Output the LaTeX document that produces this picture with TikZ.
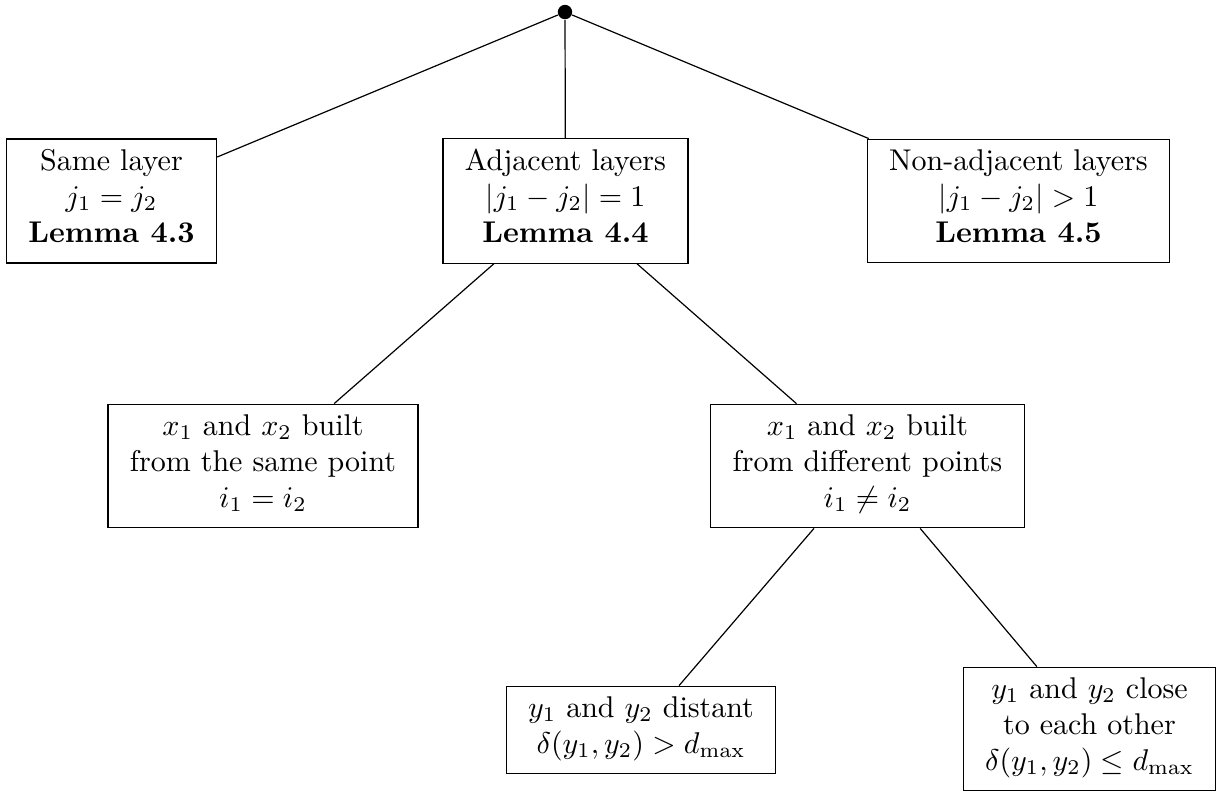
\documentclass[tikz,border=0pt]{standalone}
\usepackage{amsmath}
\begin{document}
\begin{tikzpicture}[x=0.33333pt,y=-0.33333pt,
  box/.style={draw, align=center, inner xsep=7.3pt, inner ysep=3.333pt,
    execute at begin node=\strut, execute at end node=\strut},
  edge/.style={draw, line width=0.4pt}]
\useasboundingbox (0,0) rectangle (1222,795);
\node[circle, fill=black, inner sep=0pt, minimum size=4.8pt] (root) at (565,12) {};
\node[box] (A) at (111.5,201) {Same layer\\ $j_1 = j_2$\\ \textbf{Lemma 4.3}};
\node[box] (B) at (565.5,201) {Adjacent layers\\ $|j_1 - j_2| = 1$\\ \textbf{Lemma 4.4}};
\node[box] (C) at (1018.5,201) {Non-adjacent layers\\ $|j_1 - j_2| > 1$\\ \textbf{Lemma 4.5}};
\node[box] (D) at (263,466) {$x_1$ and $x_2$ built\\ from the same point\\ $i_1 = i_2$};
\node[box] (E) at (867.5,466) {$x_1$ and $x_2$ built\\ from different points\\ $i_1 \neq i_2$};
\node[box] (F) at (641,730) {$y_1$ and $y_2$ distant\\ $\delta(y_1,y_2) > d_{\max}$};
\node[box] (G) at (1089.5,729) {$y_1$ and $y_2$ close\\ to each other\\ $\delta(y_1,y_2) \leq d_{\max}$};
\draw[edge] (root) -- (A);
\draw[edge] (root) -- (B);
\draw[edge] (root) -- (C);
\draw[edge] (B) -- (D);
\draw[edge] (B) -- (E);
\draw[edge] (E) -- (F);
\draw[edge] (E) -- (G);
\end{tikzpicture}
\end{document}
